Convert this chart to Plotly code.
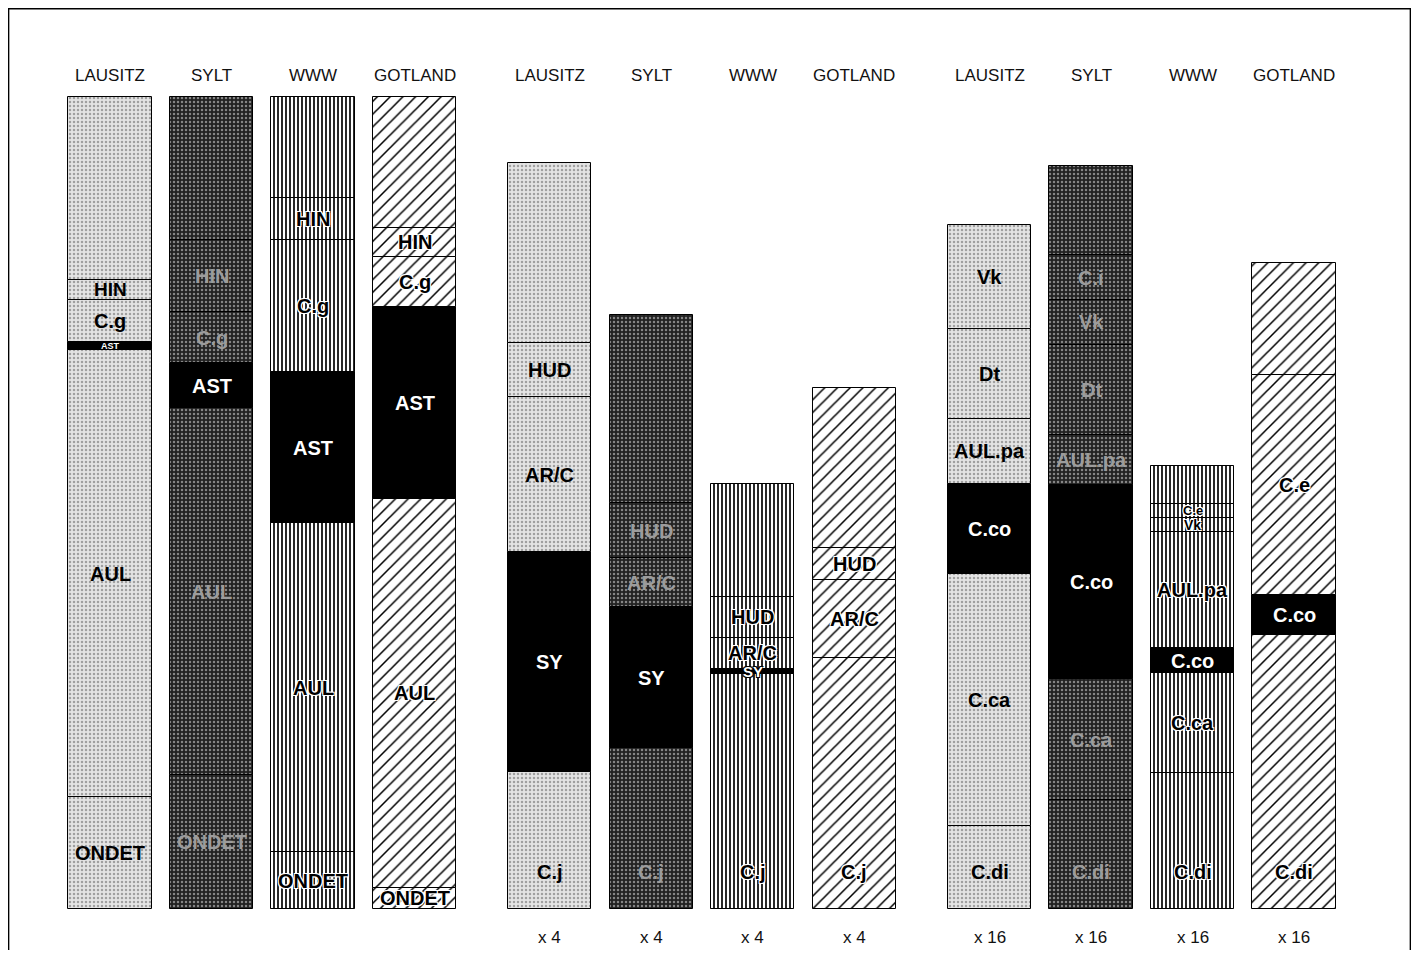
import plotly.graph_objects as go

# ---------------- data ----------------
SITES = ["LAUSITZ", "SYLT", "WWW", "GOTLAND"]
GROUP_FACTORS = ["", "x 4", "x 16"]

# Group 1 (segments listed bottom -> top, relative heights, total = 100)
G1_LAUSITZ_TAXA = ["ONDET", "AUL", "AST", "C.g", "HIN", ""]
G1_LAUSITZ_VALS = [13.8, 55.0, 1.0, 5.2, 2.5, 22.5]
G1_SYLT_TAXA = ["ONDET", "AUL", "AST", "C.g", "HIN", ""]
G1_SYLT_VALS = [16.5, 45.2, 5.5, 6.3, 8.9, 17.6]
G1_WWW_TAXA = ["ONDET", "AUL", "AST", "C.g", "HIN", ""]
G1_WWW_VALS = [7.0, 40.5, 18.6, 16.3, 5.2, 12.4]
G1_GOTLAND_TAXA = ["ONDET", "AUL", "AST", "C.g", "HIN", ""]
G1_GOTLAND_VALS = [2.6, 47.9, 23.6, 6.2, 3.6, 16.1]

# Group 2 (x 4)
G2_LAUSITZ_TAXA = ["C.j", "SY", "AR/C", "HUD", ""]
G2_LAUSITZ_VALS = [16.9, 27.1, 19.0, 6.7, 22.2]
G2_SYLT_TAXA = ["C.j", "SY", "AR/C", "HUD", ""]
G2_SYLT_VALS = [19.8, 17.4, 6.0, 6.8, 23.2]
G2_WWW_TAXA = ["C.j", "SY", "AR/C", "HUD", ""]
G2_WWW_VALS = [28.9, 0.7, 3.8, 5.0, 13.9]
G2_GOTLAND_TAXA = ["C.j", "AR/C", "HUD", ""]
G2_GOTLAND_VALS = [30.9, 9.6, 3.9, 19.8]

# Group 3 (x 16)
G3_LAUSITZ_TAXA = ["C.di", "C.ca", "C.co", "AUL.pa", "Dt", "Vk"]
G3_LAUSITZ_VALS = [10.2, 31.0, 11.2, 7.9, 11.1, 12.8]
G3_SYLT_TAXA = ["C.di", "C.ca", "C.co", "AUL.pa", "Dt", "Vk", "C.i", ""]
G3_SYLT_VALS = [13.4, 14.9, 23.9, 6.2, 11.1, 5.5, 5.5, 11.0]
G3_WWW_TAXA = ["C.di", "C.ca", "C.co", "AUL.pa", "Vk", "C.e", ""]
G3_WWW_VALS = [16.7, 12.4, 3.0, 14.3, 1.8, 1.7, 4.6]
G3_GOTLAND_TAXA = ["C.di", "C.co", "C.e", ""]
G3_GOTLAND_VALS = [33.7, 5.0, 27.1, 13.7]

GROUPS = [
    [(G1_LAUSITZ_TAXA, G1_LAUSITZ_VALS), (G1_SYLT_TAXA, G1_SYLT_VALS),
     (G1_WWW_TAXA, G1_WWW_VALS), (G1_GOTLAND_TAXA, G1_GOTLAND_VALS)],
    [(G2_LAUSITZ_TAXA, G2_LAUSITZ_VALS), (G2_SYLT_TAXA, G2_SYLT_VALS),
     (G2_WWW_TAXA, G2_WWW_VALS), (G2_GOTLAND_TAXA, G2_GOTLAND_VALS)],
    [(G3_LAUSITZ_TAXA, G3_LAUSITZ_VALS), (G3_SYLT_TAXA, G3_SYLT_VALS),
     (G3_WWW_TAXA, G3_WWW_VALS), (G3_GOTLAND_TAXA, G3_GOTLAND_VALS)],
]

# ---------------- styles ----------------
BLACK_TAXA = {"AST", "SY", "C.co"}
SITE_STYLE = {
    "LAUSITZ": dict(shape=".", bgcolor="#e4e4e4", fgcolor="#a0a0a0", size=4, solidity=0.3),
    "SYLT": dict(shape=".", bgcolor="#222222", fgcolor="#858585", size=4, solidity=0.3),
    "WWW": dict(shape="|", bgcolor="#ffffff", fgcolor="#000000", size=4, solidity=0.42),
    "GOTLAND": dict(shape="/", bgcolor="#ffffff", fgcolor="#000000", size=9, solidity=0.17),
}
SITE_TEXT = {"LAUSITZ": "#000000", "SYLT": "#9c9c9c", "WWW": "#000000", "GOTLAND": "#000000"}
HALO = "1px 1px 0 #fff, -1px -1px 0 #fff, 1px -1px 0 #fff, -1px 1px 0 #fff"
DARK_HALO = "1px 1px 0 #000, -1px -1px 0 #000, 1px -1px 0 #000, -1px 1px 0 #000"
SITE_SHADOW = {"LAUSITZ": "none", "SYLT": "none", "WWW": HALO, "GOTLAND": HALO}
GROUP_STRIDE = 4.333
BAR_WIDTH = 0.82
PX_PER_UNIT = 8.12
BOTTOM_LABEL_OFFSET = 4.5
SIZE_OVERRIDE = {(1, "WWW", "SY"): 15}
FONT_BOLD = "Liberation Sans, Arial, sans-serif"
FONT_HEAD = "Liberation Sans, Arial, sans-serif"

# figure sits inside the page's 8px body margin
W, H = 1403, 942
X0_PX = 102.0       # pixel of first bar centre
PX_PER_X = 101.5
BASE_PX = 901.0     # pixel of bar base

fig = go.Figure()
annotations = []

for g, bars in enumerate(GROUPS):
    for i, (taxa, vals) in enumerate(bars):
        site = SITES[i]
        xpos = g * GROUP_STRIDE + i
        base = 0.0
        st = SITE_STYLE[site]
        for k, (name, v) in enumerate(zip(taxa, vals)):
            if name in BLACK_TAXA:
                marker = dict(color="#000000", line=dict(color="#000000", width=1))
                tcolor = "#ffffff"
                shadow = "none"
            else:
                marker = dict(color=st["bgcolor"], line=dict(color="#000000", width=1),
                              pattern=dict(shape=st["shape"], bgcolor=st["bgcolor"],
                                           fgcolor=st["fgcolor"], size=st["size"],
                                           solidity=st["solidity"], fillmode="replace"))
                tcolor = SITE_TEXT[site]
                shadow = SITE_SHADOW[site]
            fig.add_trace(go.Bar(x=[xpos], y=[v], base=[base], width=BAR_WIDTH,
                                 marker=marker, showlegend=False, hoverinfo="skip"))
            if name:
                if g > 0 and k == 0:
                    ty = base + BOTTOM_LABEL_OFFSET
                else:
                    ty = base + v / 2
                seg_px = v * PX_PER_UNIT
                size = 20 if seg_px >= 24 else max(9, round(seg_px * 0.95))
                if (g, site, name) in SIZE_OVERRIDE:
                    size = SIZE_OVERRIDE[(g, site, name)]
                    tcolor = "#ffffff"
                    shadow = DARK_HALO
                annotations.append(dict(
                    x=xpos, y=ty, xref="x", yref="y", text="<b>" + name + "</b>",
                    showarrow=False,
                    font=dict(family=FONT_BOLD, size=size, color=tcolor, shadow=shadow),
                    xanchor="center", yanchor="middle"))
            base += v
        # site header
        annotations.append(dict(x=xpos, y=102.7, xref="x", yref="y", text=site,
                                showarrow=False, font=dict(family=FONT_HEAD, size=17, color="#111111"),
                                xanchor="center", yanchor="middle"))
        if GROUP_FACTORS[g]:
            annotations.append(dict(x=xpos, y=-3.45, xref="x", yref="y", text=GROUP_FACTORS[g],
                                    showarrow=False, font=dict(family=FONT_HEAD, size=17, color="#111111"),
                                    xanchor="center", yanchor="middle"))

fig.update_layout(
    width=W, height=H,
    margin=dict(l=0, r=0, t=0, b=0),
    paper_bgcolor="#ffffff", plot_bgcolor="#ffffff",
    barmode="overlay", bargap=0,
    xaxis=dict(range=[-X0_PX / PX_PER_X, (W - X0_PX) / PX_PER_X], visible=False, fixedrange=True),
    yaxis=dict(range=[(BASE_PX - H) / PX_PER_UNIT, BASE_PX / PX_PER_UNIT], visible=False, fixedrange=True),
    annotations=annotations,
    shapes=[dict(type="rect", xref="paper", yref="paper", x0=0.6 / W, x1=1 - 0.6 / W,
                 y0=-0.05, y1=1 - 0.8 / H, line=dict(color="#000000", width=1.5),
                 fillcolor="rgba(0,0,0,0)", layer="above")],
)

fig.write_html("out.html")
